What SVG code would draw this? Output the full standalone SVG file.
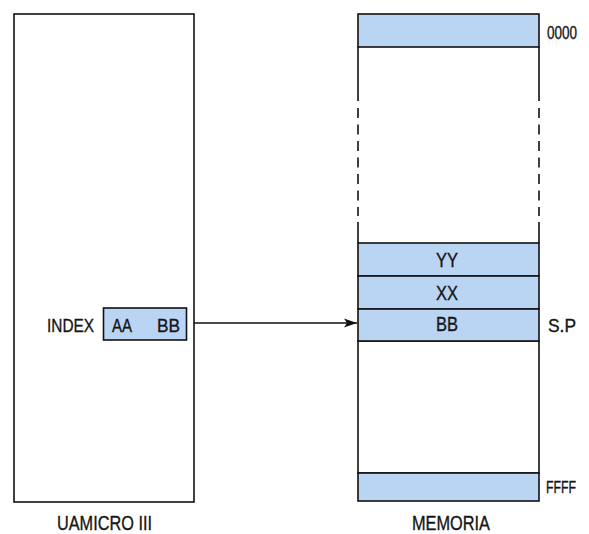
<svg xmlns="http://www.w3.org/2000/svg" width="589" height="534" viewBox="0 0 589 534">
  <style>
    .frame { fill: #ffffff; stroke: #111111; stroke-width: 1.6; }
    .cell { fill: #bad4f4; stroke: #111111; stroke-width: 1.6; }
    .side { fill: none; stroke: #111111; stroke-width: 1.6; }
    .dash { fill: none; stroke: #111111; stroke-width: 1.6; stroke-dasharray: 10 6.5; }
    .lbl { font-family: "Liberation Sans", Arial, sans-serif; fill: #151515; stroke: #151515; stroke-width: 0.35; }
    .big { font-size: 21px; }
    .mid { font-size: 19px; }
    .small { font-size: 18px; }
    .mid-c { text-anchor: middle; }
    .wire { fill: none; stroke: #111111; stroke-width: 1.4; }
  </style>
  <defs>
    <marker id="arrowhead" markerUnits="userSpaceOnUse" markerWidth="14" markerHeight="10" refX="13" refY="5" orient="auto">
      <path d="M13,5 L0,0.5 L3,5 L0,9.5 Z" fill="#111111"/>
    </marker>
  </defs>

  <!-- processor block -->
  <g id="uamicro">
    <rect class="frame" x="14" y="14" width="180" height="488"/>
    <text class="lbl big" x="57" y="530" textLength="95" lengthAdjust="spacingAndGlyphs">UAMICRO III</text>
  </g>

  <!-- index register inside the processor -->
  <g id="index-register">
    <text class="lbl mid" x="47" y="332" textLength="47" lengthAdjust="spacingAndGlyphs">INDEX</text>
    <rect class="cell" x="103.5" y="308" width="83" height="32"/>
    <text class="lbl mid" x="112" y="332" textLength="20" lengthAdjust="spacingAndGlyphs">AA</text>
    <text class="lbl mid" x="157" y="332" textLength="23" lengthAdjust="spacingAndGlyphs">BB</text>
  </g>

  <!-- memory column -->
  <g id="memoria">
    <rect class="cell" x="358" y="14" width="181" height="33"/>
    <path class="side" d="M358,47 V101 M539,47 V101 M358,222 V243 M539,222 V243"/>
    <path class="dash" d="M358,108 V216 M539,108 V216"/>
    <rect class="frame" x="358" y="341" width="181" height="132"/>
    <rect class="cell" x="358" y="473" width="181" height="28"/>
    <text class="lbl small" x="547" y="39" textLength="30" lengthAdjust="spacingAndGlyphs">0000</text>
    <text class="lbl" x="546" y="493" font-size="17" textLength="30" lengthAdjust="spacingAndGlyphs">FFFF</text>
    <text class="lbl big" x="412" y="530" textLength="78" lengthAdjust="spacingAndGlyphs">MEMORIA</text>
  </g>

  <g id="cell-yy">
    <rect class="cell" x="358" y="243" width="181" height="33"/>
    <text class="lbl big" x="436" y="267" textLength="22" lengthAdjust="spacingAndGlyphs">YY</text>
  </g>
  <g id="cell-xx">
    <rect class="cell" x="358" y="276" width="181" height="33"/>
    <text class="lbl big" x="436" y="300" textLength="22" lengthAdjust="spacingAndGlyphs">XX</text>
  </g>
  <g id="cell-bb">
    <rect class="cell" x="358" y="309" width="181" height="32"/>
    <text class="lbl big" x="436" y="331" textLength="22" lengthAdjust="spacingAndGlyphs">BB</text>
    <text class="lbl small" x="548" y="332" textLength="28" lengthAdjust="spacingAndGlyphs">S.P</text>
  </g>

  <!-- connectors -->
  <g id="connectors">
    <path class="wire" d="M194,323 H357" marker-end="url(#arrowhead)"/>
  </g>
</svg>
